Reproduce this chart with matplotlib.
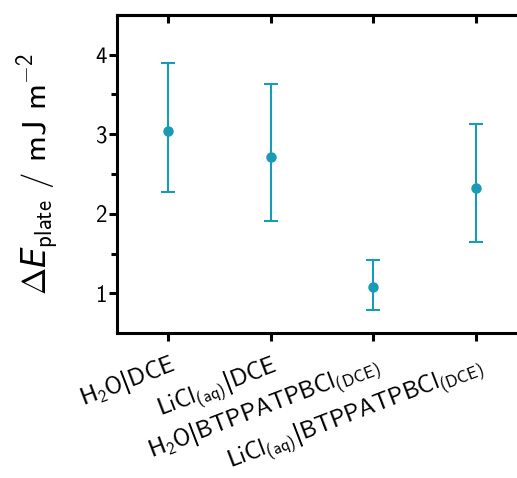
import numpy as np
import matplotlib
matplotlib.use("Agg")
import matplotlib.pyplot as plt

# font: computer modern sans, shipped with matplotlib
plt.rcParams['font.family'] = 'cmss10'
plt.rcParams['mathtext.fontset'] = 'custom'
plt.rcParams['mathtext.rm'] = 'cmss10'
plt.rcParams['mathtext.sf'] = 'DejaVu Sans'
plt.rcParams['mathtext.it'] = 'DejaVu Sans:italic'
plt.rcParams['axes.unicode_minus'] = False

BAR = r'$\mathsf{|}$'   # cmss10 has an em dash where "|" should be

# -------------------- data --------------------
labels = [r'H$_2$O' + BAR + 'DCE',
          r'LiCl$_{\rm (aq)}$' + BAR + 'DCE',
          r'H$_2$O' + BAR + r'BTPPATPBCl$_{\rm (DCE)}$',
          r'LiCl$_{\rm (aq)}$' + BAR + r'BTPPATPBCl$_{\rm (DCE)}$']
dE = np.array([3.04, 2.71, 1.08, 2.33])
err_hi = np.array([3.89, 3.63, 1.42, 3.13])
err_lo = np.array([2.28, 1.91, 0.79, 1.65])

color = '#1a9bb5'

fig = plt.figure(figsize=(5.17, 4.78), dpi=100)
# axes runs off the right edge of the picture, like the reference crop
ax = fig.add_axes([0.226, 0.303, 0.774, 0.666])

x = np.arange(len(dE))
ax.errorbar(x, dE, yerr=[dE - err_lo, err_hi - dE], fmt='o', color=color,
            ms=6.5, elinewidth=1.5, capsize=5, capthick=1.5)

ax.set_xlim(-0.5, 3.4)
ax.set_ylim(0.5, 4.5)
ax.set_yticks([1, 2, 3, 4])
ax.set_yticks([1.5, 2.5, 3.5], minor=True)
ax.set_xticks(x)
ax.set_xticklabels(labels, rotation=21, ha='right', rotation_mode='anchor')

for s in ['left', 'bottom', 'top']:
    ax.spines[s].set_linewidth(2.2)
ax.spines['right'].set_visible(False)
ax.tick_params(axis='both', which='major', width=2.2, length=6, direction='out')
ax.tick_params(axis='x', labelsize=17.2, pad=6.5)
ax.tick_params(axis='y', labelsize=16.5, pad=1.5)
ax.tick_params(axis='y', which='minor', width=2.2, length=4, direction='out')

top = ax.secondary_xaxis('top')
top.set_xticks(x)
top.set_xticklabels([])
top.tick_params(direction='in', width=2.2, length=6)
top.spines['top'].set_linewidth(2.2)

ax.set_ylabel(r'$\Delta\mathit{E}_{\rm plate}$ / mJ m$^{-2}$', fontsize=23.5, labelpad=24)

fig.savefig('out.png', dpi=100)
